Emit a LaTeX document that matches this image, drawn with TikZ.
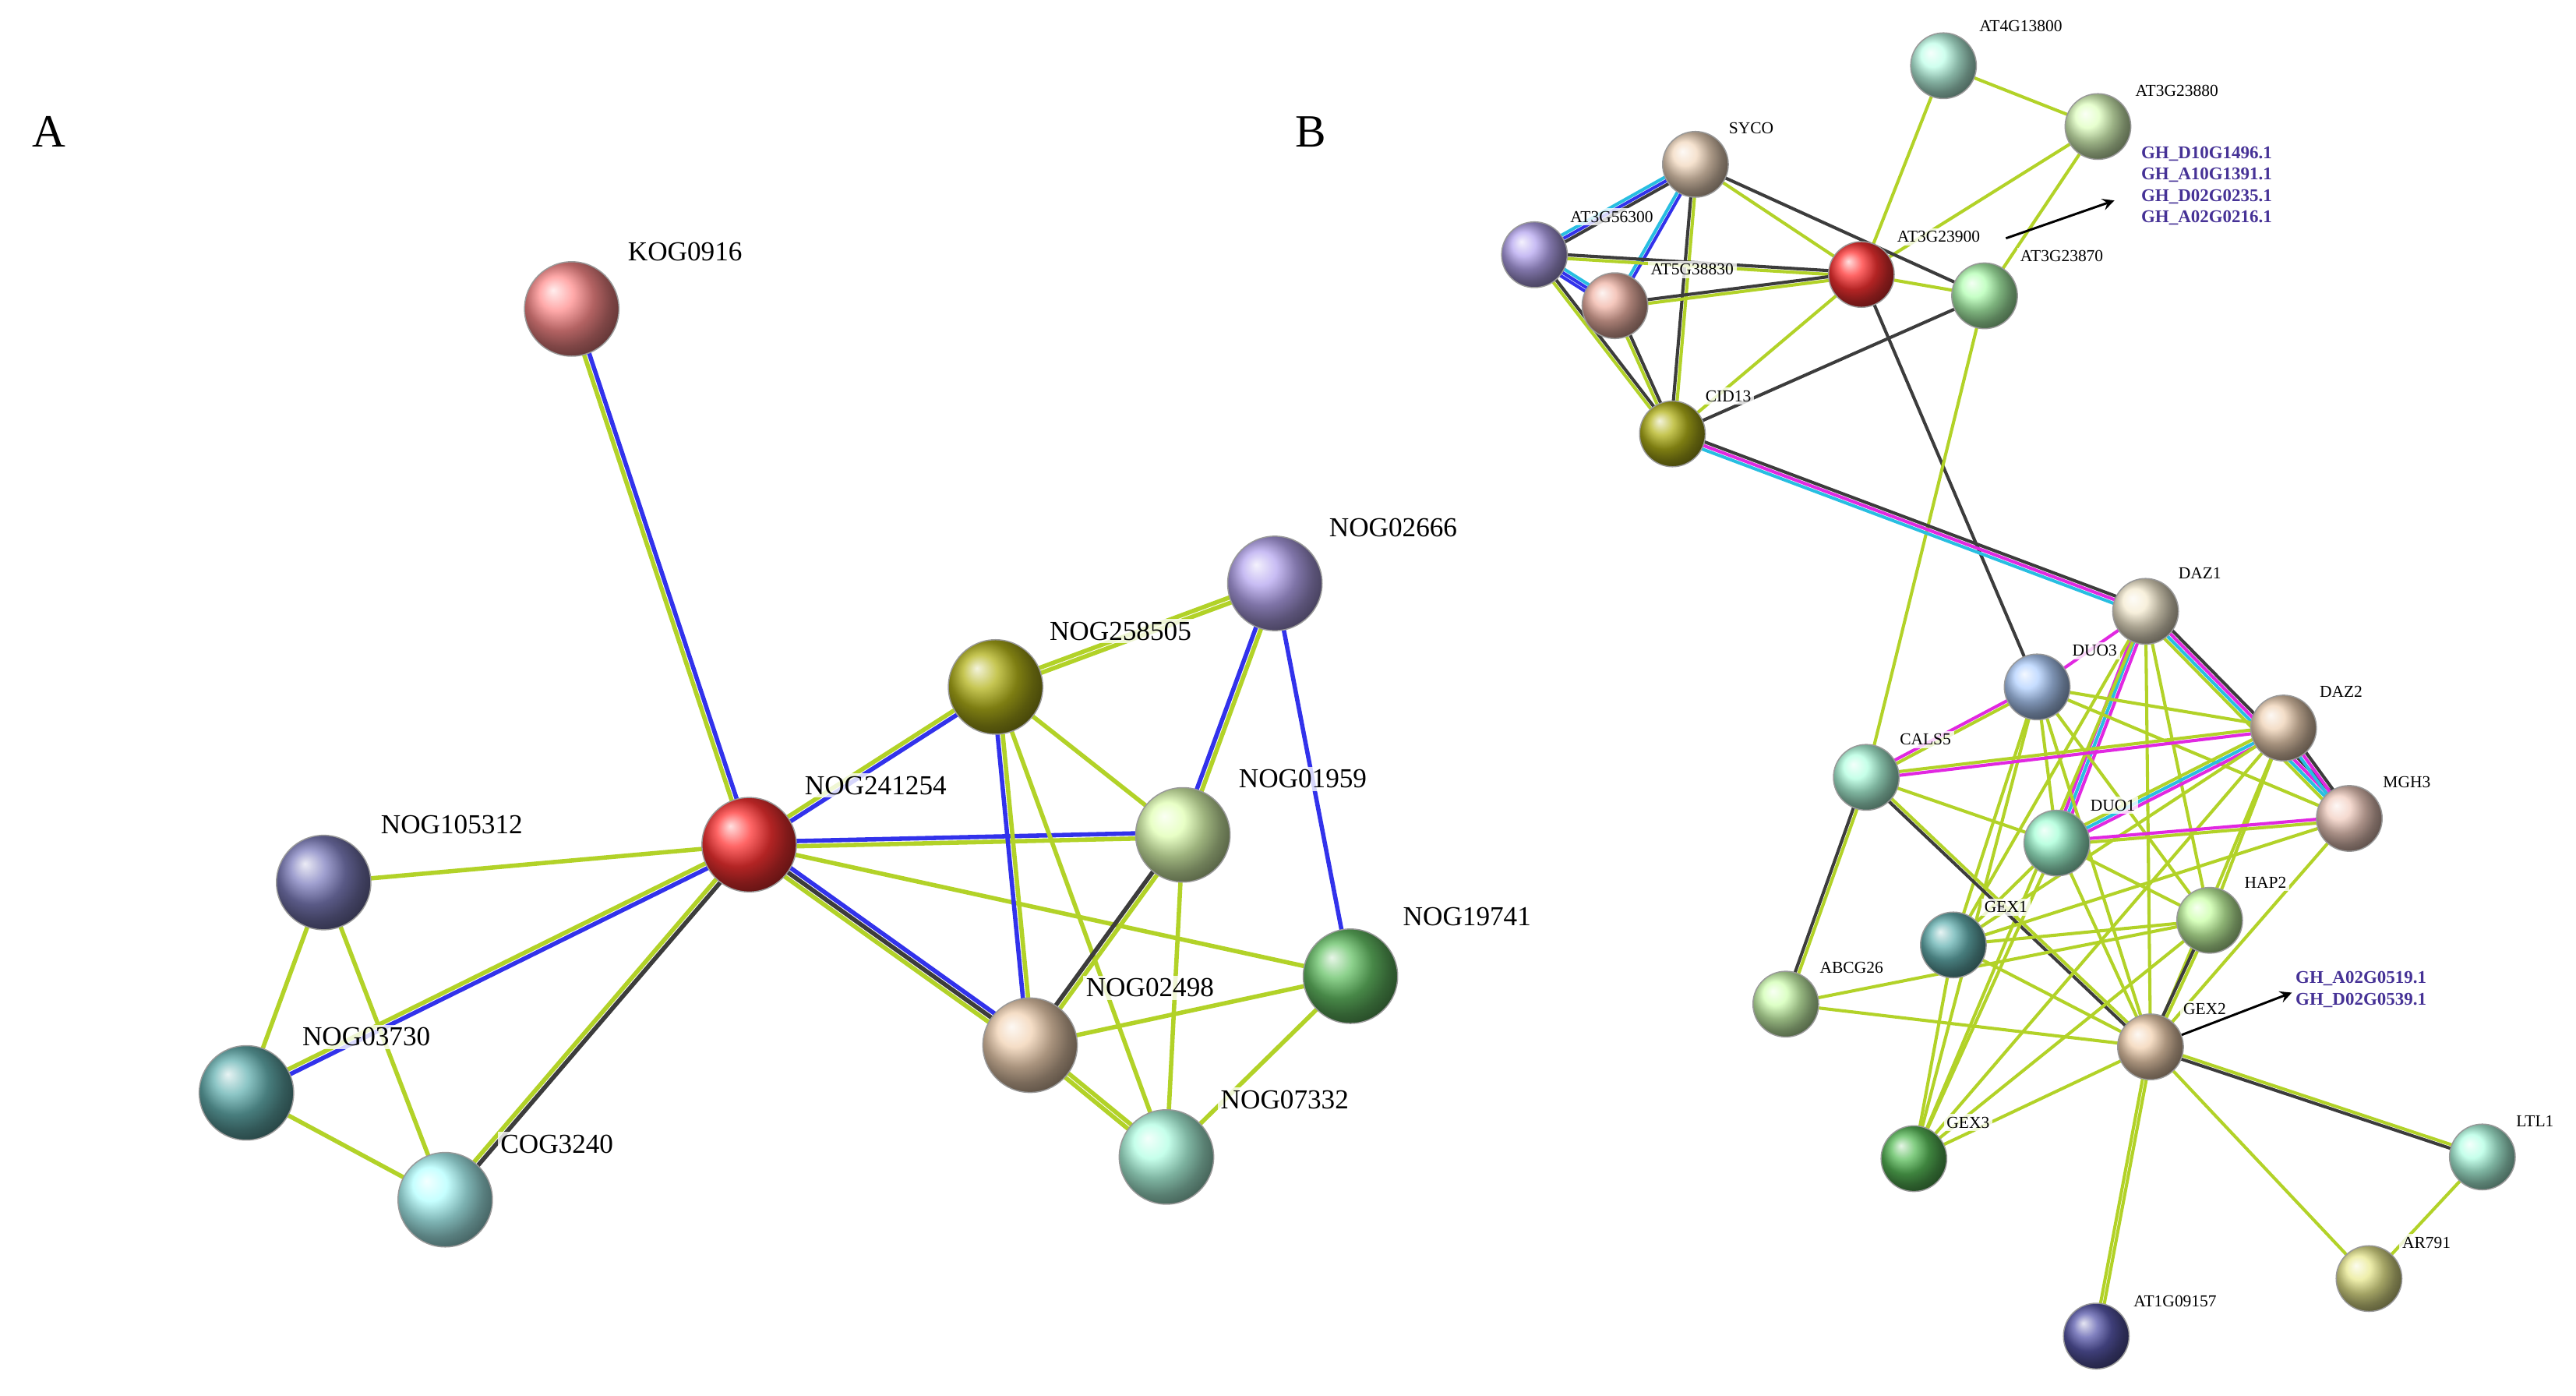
\documentclass[tikz,border=0pt]{standalone}
\usepackage{fontspec}
\setmainfont{Liberation Serif}
\usetikzlibrary{calc}
\definecolor{yg}{RGB}{178,210,40}
\definecolor{bl}{RGB}{50,50,235}
\definecolor{dk}{RGB}{60,60,60}
\definecolor{cy}{RGB}{40,190,225}
\definecolor{mg}{RGB}{225,40,225}
\definecolor{gh}{RGB}{70,50,150}
\newlength\elw \newlength\egap
\newcommand\pln[4]{\draw[#4,line width=\elw] ($(#1)!#3!90:(#2)$) -- ($(#2)!#3!-90:(#1)$);}
\newcommand\eA[3]{\pln{#1}{#2}{0pt}{#3}}
\newcommand\eB[4]{\pln{#1}{#2}{-0.5\egap}{#3}\pln{#1}{#2}{0.5\egap}{#4}}
\newcommand\eC[5]{\pln{#1}{#2}{-\egap}{#3}\pln{#1}{#2}{0pt}{#4}\pln{#1}{#2}{\egap}{#5}}
\newcommand\eD[6]{\pln{#1}{#2}{-1.5\egap}{#3}\pln{#1}{#2}{-0.5\egap}{#4}\pln{#1}{#2}{0.5\egap}{#5}\pln{#1}{#2}{1.5\egap}{#6}}
\begin{document}
\begin{tikzpicture}[x=0.02cm,y=-0.02cm,
 ballA/.style={circle,minimum size=1.15cm,inner sep=0pt,ball color=#1,draw=black!40,line width=0.4pt},
 ballB/.style={circle,minimum size=0.8cm,inner sep=0pt,ball color=#1,draw=black!40,line width=0.4pt},
 labA/.style={font=\fontsize{9.5}{10}\selectfont,fill=white,fill opacity=0.8,text opacity=1,inner sep=1pt},
 labB/.style={font=\fontsize{5.8}{6}\selectfont,fill=white,fill opacity=0.8,text opacity=1,inner sep=1pt},
 ghl/.style={font=\bfseries\fontsize{6.2}{7.4}\selectfont,text=gh,align=left,inner sep=0pt},
 arr/.style={-stealth,line width=0.8pt,black}]
\useasboundingbox (0,0) rectangle (1568,849);
\node[font=\fontsize{16}{16}\selectfont] (LA) at (30,80) {A};
\node[font=\fontsize{16}{16}\selectfont] (LB) at (798,80) {B};
% ---------- Panel A coordinates
\coordinate (KOG) at (348,188);
\coordinate (N241) at (456,514);
\coordinate (N105) at (197,537);
\coordinate (N037) at (150,665);
\coordinate (C324) at (271,730);
\coordinate (N258) at (606,418);
\coordinate (N026) at (776,355);
\coordinate (N019) at (720,508);
\coordinate (N197) at (822,594);
\coordinate (N024) at (627,636);
\coordinate (N073) at (710,704);
\setlength\elw{1.5pt}\setlength\egap{1.8pt}
\eB{KOG}{N241}{yg}{bl}
\eA{N105}{N241}{yg}
\eB{N037}{N241}{bl}{yg}
\eB{C324}{N241}{dk}{yg}
\eA{N105}{N037}{yg}
\eA{N105}{C324}{yg}
\eA{N037}{C324}{yg}
\eB{N241}{N258}{bl}{yg}
\eB{N241}{N019}{yg}{bl}
\eA{N241}{N197}{yg}
\eC{N241}{N024}{yg}{dk}{bl}
\eB{N258}{N026}{yg}{yg}
\eA{N258}{N019}{yg}
\eB{N258}{N024}{bl}{yg}
\eA{N258}{N073}{yg}
\eB{N026}{N019}{bl}{yg}
\eA{N026}{N197}{bl}
\eB{N019}{N024}{dk}{yg}
\eA{N019}{N073}{yg}
\eA{N024}{N197}{yg}
\eB{N024}{N073}{yg}{yg}
\eA{N197}{N073}{yg}
\node[ballA={red!45!white}] (nKOG) at (KOG) {};
\node[ballA={red!80!white}] (nN241) at (N241) {};
\node[ballA={blue!50!black!50!white}] (nN105) at (N105) {};
\node[ballA={teal!60!white}] (nN037) at (N037) {};
\node[ballA={cyan!30!white}] (nC324) at (C324) {};
\node[ballA={olive!60!white}] (nN258) at (N258) {};
\node[ballA={violet!35!blue!35!white}] (nN026) at (N026) {};
\node[ballA={green!40!yellow!30!white}] (nN019) at (N019) {};
\node[ballA={green!60!black!60!white}] (nN197) at (N197) {};
\node[ballA={orange!40!brown!35!white}] (nN024) at (N024) {};
\node[ballA={green!35!cyan!30!white}] (nN073) at (N073) {};
\node[labA] (tKOG) at (417,153) {KOG0916};
\node[labA] (tN241) at (533,478) {NOG241254};
\node[labA] (tN105) at (275,502) {NOG105312};
\node[labA] (tN037) at (223,631) {NOG03730};
\node[labA] (tC324) at (339,696) {COG3240};
\node[labA] (tN258) at (682,384) {NOG258505};
\node[labA] (tN026) at (848,321) {NOG02666};
\node[labA] (tN019) at (793,474) {NOG01959};
\node[labA] (tN197) at (893,558) {NOG19741};
\node[labA] (tN024) at (700,601) {NOG02498};
\node[labA] (tN073) at (782,669) {NOG07332};
% ---------- Panel B coordinates
\coordinate (A413) at (1183,40);
\coordinate (A388) at (1277,77);
\coordinate (SY) at (1032,100);
\coordinate (A563) at (934,155);
\coordinate (A538) at (983,186);
\coordinate (A390) at (1133,167);
\coordinate (A387) at (1208,180);
\coordinate (CID) at (1018,264);
\coordinate (DZ1) at (1306,372);
\coordinate (DU3) at (1240,418);
\coordinate (DZ2) at (1390,443);
\coordinate (CAL) at (1136,473);
\coordinate (MGH) at (1430,498);
\coordinate (DU1) at (1252,513);
\coordinate (HAP) at (1345,560);
\coordinate (GX1) at (1189,575);
\coordinate (ABC) at (1087,611);
\coordinate (GX2) at (1309,637);
\coordinate (GX3) at (1165,705);
\coordinate (LTL) at (1511,704);
\coordinate (AR) at (1442,778);
\coordinate (AT1) at (1276,813);
\setlength\elw{1.1pt}\setlength\egap{1.3pt}
\eA{A413}{A388}{yg}
\eA{A413}{A390}{yg}
\eA{A388}{A390}{yg}
\eA{A388}{A387}{yg}
\eC{SY}{A563}{cy}{bl}{dk}
\eB{SY}{A538}{cy}{bl}
\eA{SY}{A390}{yg}
\eA{SY}{A387}{dk}
\eB{SY}{CID}{dk}{yg}
\eC{A563}{A538}{bl}{bl}{cy}
\eB{A563}{A390}{yg}{dk}
\eB{A563}{CID}{yg}{dk}
\eB{A538}{A390}{yg}{dk}
\eB{A538}{CID}{yg}{dk}
\eA{A390}{A387}{yg}
\eA{A390}{CID}{yg}
\eA{A387}{CID}{dk}
\eA{A390}{DU3}{dk}
\eA{A387}{CAL}{yg}
\eC{CID}{DZ1}{cy}{mg}{dk}
\eA{DZ1}{DU3}{mg}
\eC{DZ1}{DU1}{mg}{cy}{mg}
\eD{DZ1}{MGH}{yg}{cy}{mg}{dk}
\eA{DZ1}{GX2}{yg}
\eA{DZ1}{HAP}{yg}
\eA{DZ1}{GX1}{yg}
\eA{DZ1}{GX3}{yg}
\eB{DU3}{CAL}{mg}{yg}
\eA{DU3}{DZ2}{yg}
\eA{DU3}{MGH}{yg}
\eA{DU3}{GX1}{yg}
\eA{DU3}{GX3}{yg}
\eA{DU3}{GX2}{yg}
\eA{DU3}{HAP}{yg}
\eA{DU3}{DU1}{yg}
\eB{CAL}{DZ2}{mg}{yg}
\eA{CAL}{DU1}{yg}
\eB{CAL}{GX2}{dk}{yg}
\eB{CAL}{ABC}{dk}{yg}
\eC{DZ2}{DU1}{yg}{cy}{mg}
\eC{DZ2}{MGH}{cy}{mg}{dk}
\eA{DZ2}{HAP}{yg}
\eA{DZ2}{GX1}{yg}
\eA{DZ2}{GX2}{yg}
\eA{DZ2}{GX3}{yg}
\eB{MGH}{DU1}{mg}{yg}
\eA{MGH}{GX1}{yg}
\eA{MGH}{GX2}{yg}
\eA{DU1}{GX1}{yg}
\eA{DU1}{GX2}{yg}
\eA{DU1}{GX3}{yg}
\eA{DU1}{HAP}{yg}
\eA{HAP}{GX1}{yg}
\eB{HAP}{GX2}{dk}{yg}
\eA{HAP}{ABC}{yg}
\eA{HAP}{GX3}{yg}
\eA{GX1}{GX2}{yg}
\eA{GX1}{GX3}{yg}
\eA{ABC}{GX2}{yg}
\eA{GX2}{GX3}{yg}
\eB{GX2}{LTL}{dk}{yg}
\eA{GX2}{AR}{yg}
\eB{GX2}{AT1}{yg}{yg}
\eA{LTL}{AR}{yg}
\node[ballB={green!35!cyan!25!white}] (nA413) at (A413) {};
\node[ballB={yellow!50!green!25!white}] (nA388) at (A388) {};
\node[ballB={orange!35!brown!30!white}] (nSY) at (SY) {};
\node[ballB={violet!35!blue!35!white}] (nA563) at (A563) {};
\node[ballB={red!45!brown!40!white}] (nA538) at (A538) {};
\node[ballB={red!80!white}] (nA390) at (A390) {};
\node[ballB={green!30!white}] (nA387) at (A387) {};
\node[ballB={olive!60!white}] (nCID) at (CID) {};
\node[ballB={yellow!30!brown!22!white}] (nDZ1) at (DZ1) {};
\node[ballB={cyan!40!blue!30!white}] (nDU3) at (DU3) {};
\node[ballB={orange!30!brown!35!white}] (nDZ2) at (DZ2) {};
\node[ballB={green!40!cyan!30!white}] (nCAL) at (CAL) {};
\node[ballB={red!30!brown!30!white}] (nMGH) at (MGH) {};
\node[ballB={green!45!cyan!35!white}] (nDU1) at (DU1) {};
\node[ballB={yellow!40!green!35!white}] (nHAP) at (HAP) {};
\node[ballB={teal!60!white}] (nGX1) at (GX1) {};
\node[ballB={yellow!40!green!30!white}] (nABC) at (ABC) {};
\node[ballB={orange!45!brown!35!white}] (nGX2) at (GX2) {};
\node[ballB={green!60!black!65!white}] (nGX3) at (GX3) {};
\node[ballB={green!35!cyan!30!white}] (nLTL) at (LTL) {};
\node[ballB={yellow!50!olive!35!white}] (nAR) at (AR) {};
\node[ballB={blue!50!black!65!white}] (nAT1) at (AT1) {};
\node[labB] (tA413) at (1230,16) {AT4G13800};
\node[labB] (tA388) at (1325,55) {AT3G23880};
\node[labB] (tSY) at (1066,78) {SYCO};
\node[labB] (tA563) at (981,132) {AT3G56300};
\node[labB] (tA538) at (1030,164) {AT5G38830};
\node[labB] (tA390) at (1180,144) {AT3G23900};
\node[labB] (tA387) at (1255,156) {AT3G23870};
\node[labB] (tCID) at (1052,241) {CID13};
\node[labB] (tDZ1) at (1339,349) {DAZ1};
\node[labB] (tDU3) at (1275,396) {DUO3};
\node[labB] (tDZ2) at (1425,421) {DAZ2};
\node[labB] (tCAL) at (1172,450) {CALS5};
\node[labB] (tMGH) at (1465,476) {MGH3};
\node[labB] (tDU1) at (1286,490) {DUO1};
\node[labB] (tHAP) at (1379,537) {HAP2};
\node[labB] (tGX1) at (1221,552) {GEX1};
\node[labB] (tABC) at (1127,589) {ABCG26};
\node[labB] (tGX2) at (1342,614) {GEX2};
\node[labB] (tGX3) at (1198,683) {GEX3};
\node[labB] (tLTL) at (1543,682) {LTL1};
\node[labB] (tAR) at (1477,756) {AR791};
\node[labB] (tAT1) at (1324,792) {AT1G09157};
\node[ghl,anchor=west] (g1) at (1303,113) {GH\_D10G1496.1\\GH\_A10G1391.1\\GH\_D02G0235.1\\GH\_A02G0216.1};
\node[ghl,anchor=west] (g2) at (1397,602) {GH\_A02G0519.1\\GH\_D02G0539.1};
\coordinate (a1s) at (1221,145);
\coordinate (a1e) at (1287,122);
\draw[arr] (a1s) -- (a1e);
\coordinate (a2e) at (1395,604);
\draw[arr] (nGX2) -- (a2e);
\end{tikzpicture}
\end{document}
